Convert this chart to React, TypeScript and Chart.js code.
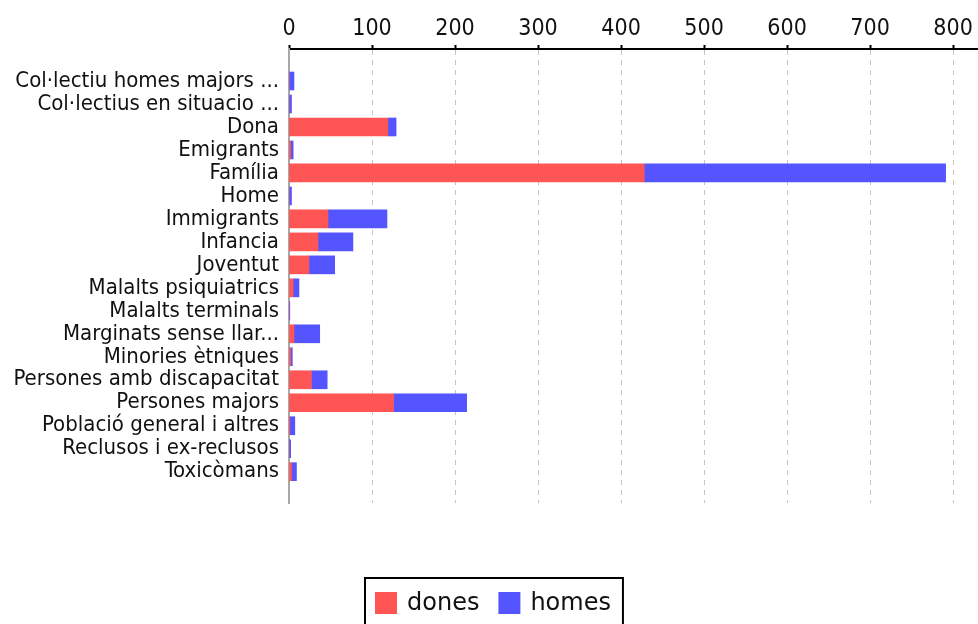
import React, { useEffect, useRef } from 'react';
import { Chart, registerables } from 'chart.js';

Chart.register(...registerables);

const categories: string[] = [
  'Col·lectiu homes majors ...',
  'Col·lectius en situacio ...',
  'Dona',
  'Emigrants',
  'Família',
  'Home',
  'Immigrants',
  'Infancia',
  'Joventut',
  'Malalts psiquiatrics',
  'Malalts terminals',
  'Marginats sense llar...',
  'Minories ètniques',
  'Persones amb discapacitat',
  'Persones majors',
  'Població general i altres',
  'Reclusos i ex-reclusos',
  'Toxicòmans',
];

const dones: number[] = [0, 0, 119, 2, 428, 0, 47, 35, 24, 5, 0, 6, 2, 27, 126, 1, 0, 3];
const homes: number[] = [6, 3, 10, 3, 363, 3, 71, 42, 31, 7, 1, 31, 2, 19, 88, 6, 2, 6];

const xTicks: number[] = [0, 100, 200, 300, 400, 500, 600, 700, 800];

const seriesNames = ['dones', 'homes'];
const seriesColors = ['#ff5555', '#5555ff'];

const legendBoxPlugin = {
  id: 'legendBox',
  afterDraw(chart: any) {
    const ctx = chart.ctx as CanvasRenderingContext2D;
    ctx.save();
    ctx.font = '24px "DejaVu Sans"';
    const sw = 22;
    const gapAfterSw = 10;
    const gapItems = 19;
    const padL = 10;
    const padR = 12;
    const items = chart.data.datasets.map((d: any) => ({
      label: d.label as string,
      color: d.backgroundColor as string,
      w: ctx.measureText(d.label).width,
    }));
    const total =
      padL +
      padR +
      items.reduce((a: number, it: any) => a + sw + gapAfterSw + it.w, 0) +
      gapItems * (items.length - 1);
    const cx = 493.5;
    const left = Math.round(cx - total / 2);
    const top = 578;
    const cy = 603;
    ctx.lineWidth = 2;
    ctx.strokeStyle = '#000';
    ctx.strokeRect(left, top, total, 60);
    let x = left + padL;
    ctx.textBaseline = 'middle';
    ctx.textAlign = 'left';
    items.forEach((it: any, i: number) => {
      ctx.fillStyle = it.color;
      ctx.fillRect(x, cy - sw / 2, sw, sw);
      x += sw + gapAfterSw;
      ctx.fillStyle = '#111';
      ctx.fillText(it.label, x, cy + 1);
      x += it.w + (i < items.length - 1 ? gapItems : 0);
    });
    ctx.restore();
  },
};

export default function App() {
  const ref = useRef<HTMLCanvasElement>(null);

  useEffect(() => {
    if (!ref.current) return;
    const chart = new Chart(ref.current, {
      type: 'bar',
      data: {
        datasets: [
          {
            label: seriesNames[0],
            data: dones.map((v, i) => ({ x: v, y: i })),
            backgroundColor: seriesColors[0],
            borderWidth: 0,
            barThickness: 18,
          },
          {
            label: seriesNames[1],
            data: homes.map((v, i) => ({ x: v, y: i })),
            backgroundColor: seriesColors[1],
            borderWidth: 0,
            barThickness: 18,
          },
        ],
      },
      options: {
        indexAxis: 'y',
        responsive: false,
        animation: false,
        devicePixelRatio: 1,
        layout: { padding: { top: 0, left: 0, right: 0, bottom: 121 } },
        plugins: {
          legend: { display: false },
          tooltip: { enabled: false },
        },
        scales: {
          x: {
            type: 'linear',
            position: 'top',
            min: 0,
            max: 830,
            stacked: true,
            offset: false,
            afterBuildTicks: (s: any) => {
              s.ticks = xTicks.map((v) => ({ value: v }));
            },
            afterFit: (s: any) => {
              s.height = 49;
            },
            ticks: {
              padding: 2,
              color: '#111',
              font: { family: '"DejaVu Sans Condensed", "DejaVu Sans"', size: 23 },
              maxRotation: 0,
            },
            grid: {
              color: '#c4c4c4',
              lineWidth: 1,
              tickColor: '#000',
              tickLength: 4,
              tickWidth: 2,
            },
            border: { display: true, color: '#000', width: 2, dash: [5, 5] },
          },
          y: {
            type: 'linear',
            reverse: true,
            min: -1.393,
            max: 18.362,
            stacked: true,
            offset: false,
            afterBuildTicks: (s: any) => {
              s.ticks = categories.map((_, i) => ({ value: i }));
            },
            afterFit: (s: any) => {
              s.width = 289;
            },
            ticks: {
              autoSkip: false,
              padding: 10,
              color: '#111',
              font: { family: '"DejaVu Sans Condensed", "DejaVu Sans"', size: 22 },
              callback: (v: any) => categories[v as number] ?? '',
            },
            grid: { display: false, drawTicks: false },
            border: { display: true, color: '#a8a8a8', width: 2 },
          },
        },
      },
      plugins: [legendBoxPlugin],
    } as any);
    return () => chart.destroy();
  }, []);

  return (
    <div style={{ position: 'absolute', left: 0, top: 0, width: 978, height: 624, background: '#fff' }}>
      <canvas ref={ref} width={978} height={624} style={{ display: 'block' }} />
    </div>
  );
}
